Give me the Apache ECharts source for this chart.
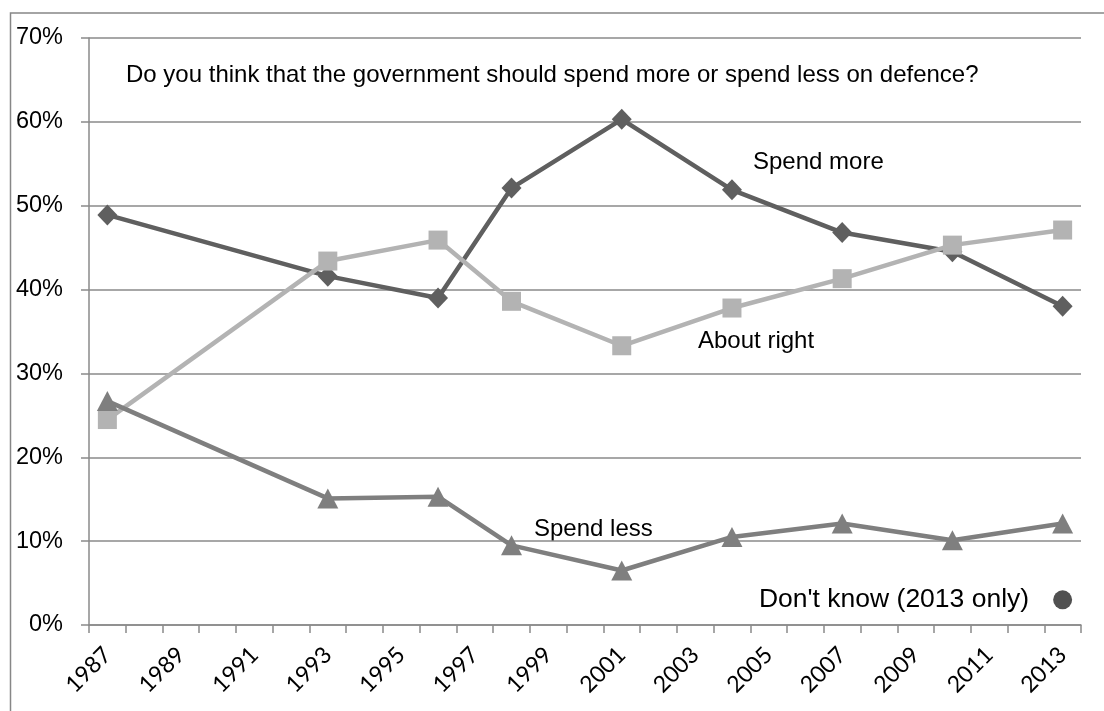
<!DOCTYPE html>
<html>
<head>
<meta charset="utf-8">
<script src="https://cdn.jsdelivr.net/npm/echarts@6/dist/echarts.min.js"></script>
<style>
html,body{margin:0;padding:0;background:#fff;}
#chart{width:1104px;height:711px;}
</style>
</head>
<body>
<div id="chart"></div>
<script>
// Category tick labels (one per year)
const categories = ['1987','1988','1989','1990','1991','1992','1993','1994','1995','1996','1997','1998','1999','2000',
  '2001','2002','2003','2004','2005','2006','2007','2008','2009','2010','2011','2012','2013'];
// Survey years
const surveyYears = ['1987','1993','1996','1998','2001','2004','2007','2010','2013'];
// Series values (%)
const spendMore  = [48.9, 41.6, 39.0, 52.1, 60.3, 51.9, 46.8, 44.5, 38.0];
const aboutRight = [24.5, 43.4, 45.9, 38.6, 33.3, 37.8, 41.3, 45.3, 47.1];
const spendLess  = [26.7, 15.1, 15.3, 9.5, 6.5, 10.5, 12.1, 10.1, 12.1];
const dontKnowYear = ['2013'];
const dontKnow = [3.0];
const yTicks = [0, 10, 20, 30, 40, 50, 60, 70];

const pair = (ys, vs) => ys.map((y, i) => [y, vs[i]]);
const FONT = "'Liberation Sans', Arial, sans-serif";
const GRID = '#8a8a8a';

const chart = echarts.init(document.getElementById('chart'), null, {renderer: 'canvas'});
chart.setOption({
  animation: false,
  backgroundColor: '#ffffff',
  grid: {left: 89, right: 23, top: 38, bottom: 86, containLabel: false},
  xAxis: {
    type: 'category',
    data: categories,
    boundaryGap: true,
    axisLine: {show: true, lineStyle: {color: GRID, width: 1.5}},
    axisTick: {show: true, interval: 0, length: 8, lineStyle: {color: GRID, width: 1.5}},
    axisLabel: {interval: 1, rotate: 45, fontSize: 23, color: '#000', fontFamily: "Lato, 'Liberation Sans', sans-serif", margin: 26},
    splitLine: {show: false}
  },
  yAxis: {
    type: 'value',
    min: yTicks[0], max: yTicks[yTicks.length - 1], interval: 10,
    axisLine: {show: true, lineStyle: {color: GRID, width: 1.5}},
    axisTick: {show: true, length: 8, lineStyle: {color: GRID, width: 1.5}},
    axisLabel: {formatter: '{value}%', fontSize: 23.5, color: '#000', fontFamily: FONT, margin: 26},
    splitLine: {show: true, lineStyle: {color: GRID, width: 1.5}}
  },
  series: [
    {
      name: 'Spend more', type: 'line', data: pair(surveyYears, spendMore),
      symbol: 'diamond', symbolSize: [20, 21],
      lineStyle: {color: '#5f5f5f', width: 4.5},
      itemStyle: {color: '#5f5f5f', opacity: 1}, z: 2
    },
    {
      name: 'About right', type: 'line', data: pair(surveyYears, aboutRight),
      symbol: 'rect', symbolSize: 19,
      lineStyle: {color: '#b3b3b3', width: 4.5},
      itemStyle: {color: '#b3b3b3', opacity: 1}, z: 3
    },
    {
      name: 'Spend less', type: 'line', data: pair(surveyYears, spendLess),
      symbol: 'triangle', symbolSize: [21, 20],
      lineStyle: {color: '#7f7f7f', width: 4.5},
      itemStyle: {color: '#7f7f7f', opacity: 1}, z: 4
    },
    {
      name: "Don't know (2013 only)", type: 'scatter', data: pair(dontKnowYear, dontKnow),
      symbol: 'circle', symbolSize: 19,
      itemStyle: {color: '#505050', opacity: 1},
      label: {show: true, position: 'left', distance: 24, formatter: "Don't know (2013 only)",
        fontSize: 26.5, color: '#000', opacity: 1, textBorderWidth: 0, fontFamily: FONT}, z: 5
    }
  ],
  graphic: [
    {type: 'rect', silent: true, z: -1, shape: {x: 10.5, y: 13, width: 1300, height: 900},
      style: {fill: null, stroke: '#878787', lineWidth: 1.5}},
    {type: 'text', x: 126, y: 75, style: {text: 'Do you think that the government should spend more or spend less on defence?',
      font: '24px ' + FONT, fill: '#000', textVerticalAlign: 'middle'}},
    {type: 'text', x: 753, y: 162, style: {text: 'Spend more', font: '24px ' + FONT, fill: '#000', textVerticalAlign: 'middle'}},
    {type: 'text', x: 698, y: 341, style: {text: 'About right', font: '24px ' + FONT, fill: '#000', textVerticalAlign: 'middle'}},
    {type: 'text', x: 534, y: 529, style: {text: 'Spend less', font: '24px ' + FONT, fill: '#000', textVerticalAlign: 'middle'}}
  ]
});
</script>
</body>
</html>
